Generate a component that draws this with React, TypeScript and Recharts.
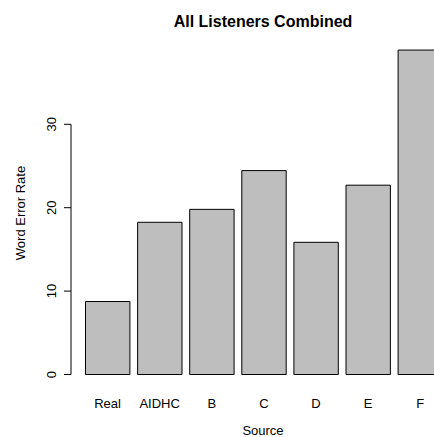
import React from 'react';
import { BarChart, Bar, XAxis, YAxis, ReferenceLine } from 'recharts';

// Word error rate per source
const SOURCES = ['Real', 'AIDHC', 'B', 'C', 'D', 'E', 'F'];
const WER = [8.75, 18.25, 19.8, 24.45, 15.85, 22.7, 38.9];
const Y_TICKS = [0, 10, 20, 30];

const FONT = '"Liberation Sans", Arial, Helvetica, sans-serif';

const data = SOURCES.map((source, i) => ({ source, wer: WER[i] }));

// R style rotated tick labels on the y axis
const RotatedTick = (props: any) => {
  const { x, y, payload } = props;
  return (
    <text
      x={x}
      y={y}
      transform={`rotate(-90, ${x}, ${y})`}
      textAnchor="middle"
      fontSize={13}
      fontFamily={FONT}
      fill="#000"
    >
      {payload.value}
    </text>
  );
};

export default function App() {
  return (
    <div
      style={{
        position: 'absolute',
        left: 0,
        top: 0,
        width: 434,
        height: 437,
        overflow: 'hidden',
        background: '#fff',
      }}
    >
      <BarChart
        width={460}
        height={437}
        data={data}
        margin={{ top: 40.9, right: 13.8, bottom: 0, left: 0 }}
      >
        <XAxis
          dataKey="source"
          axisLine={false}
          tickLine={false}
          tickSize={0}
          tickMargin={24}
          height={62.5}
          padding={{ left: 10.5, right: 0 }}
          interval={0}
          tick={{ fill: '#000', fontSize: 13, fontFamily: FONT }}
        />
        <XAxis xAxisId="line" type="number" domain={[0, 1]} hide />
        <YAxis
          domain={[0, 40]}
          ticks={Y_TICKS}
          width={71}
          axisLine={false}
          tickLine={{ stroke: '#000' }}
          tickSize={7}
          tickMargin={8}
          tick={<RotatedTick />}
          interval={0}
        />
        <ReferenceLine
          xAxisId="line"
          segment={[
            { x: 0, y: Y_TICKS[0] },
            { x: 0, y: Y_TICKS[Y_TICKS.length - 1] },
          ]}
          stroke="#000"
        />
        <Bar
          dataKey="wer"
          fill="#bebebe"
          stroke="#000"
          strokeWidth={1}
          barSize={44.4}
          isAnimationActive={false}
        />
      </BarChart>
      <svg
        width={434}
        height={437}
        style={{ position: 'absolute', left: 0, top: 0, pointerEvents: 'none' }}
        fontFamily={FONT}
      >
        <text x={263} y={27} textAnchor="middle" fontSize={16} fontWeight="bold" fill="#000">
          All Listeners Combined
        </text>
        <text x={263} y={434.5} textAnchor="middle" fontSize={13} fill="#000">
          Source
        </text>
        <text
          x={24.7}
          y={213}
          transform="rotate(-90, 24.7, 213)"
          textAnchor="middle"
          fontSize={13}
          fill="#000"
        >
          Word Error Rate
        </text>
      </svg>
    </div>
  );
}
